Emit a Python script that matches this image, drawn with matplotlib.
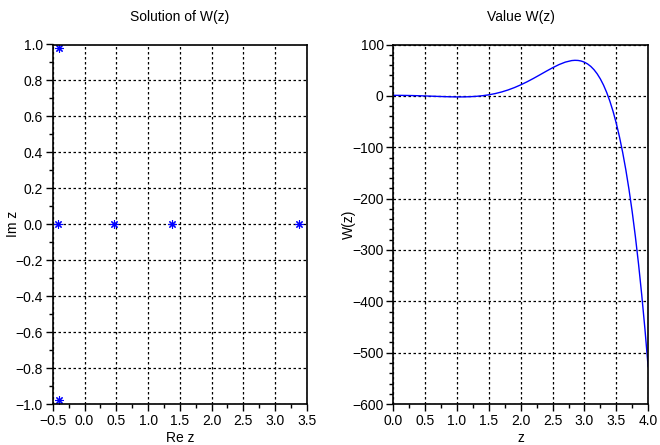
import numpy as np
import matplotlib
matplotlib.use('Agg')
import matplotlib.pyplot as plt
from matplotlib.ticker import MultipleLocator

plt.rcParams['font.family'] = ['Liberation Sans', 'DejaVu Sans']
plt.rcParams['font.size'] = 10

# roots of W(z)
root_re = [-0.42, -0.41, -0.41, 0.46, 1.38, 3.37]
root_im = [0.0, 0.98, -0.98, 0.0, 0.0, 0.0]

# W(z)
z_vals = [0.0, 0.1, 0.2, 0.3, 0.4, 0.5, 0.6, 0.7, 0.8, 0.9, 1.0,
          1.1, 1.2, 1.3, 1.4, 1.5, 1.6, 1.7, 1.8, 1.9, 2.0,
          2.1, 2.2, 2.3, 2.4, 2.5, 2.6, 2.7, 2.8, 2.85, 2.9, 2.95, 3.0,
          3.05, 3.1, 3.15, 3.2, 3.25, 3.3, 3.35, 3.4, 3.45, 3.5,
          3.55, 3.6, 3.65, 3.7, 3.75, 3.8, 3.85, 3.9, 3.95, 4.0]
w_vals = [1.01, 0.96, 0.80, 0.56, 0.23, -0.17, -0.61, -1.07, -1.50, -1.84, -2.04,
          -2.00, -1.66, -0.93, 0.29, 2.06, 4.48, 7.60, 11.46, 16.08, 21.43,
          27.44, 33.99, 40.91, 47.94, 54.72, 60.83, 65.72, 68.70, 69.2, 68.96, 67.78, 65.55,
          62.11, 57.31, 50.98, 42.94, 32.99, 20.91, 6.48, -10.53, -30.39, -53.36,
          -79.74, -109.83, -143.95, -182.45, -225.69, -274.04, -327.92, -387.75, -453.99, -527.06]


def style_axes(ax):
    ax.grid(True, which='major', color='black', linestyle=(0, (2, 2)), linewidth=0.9)
    ax.tick_params(which='major', direction='out', length=5, width=1, colors='black', pad=2)
    ax.tick_params(which='minor', direction='out', length=3, width=1)
    for s in ax.spines.values():
        s.set_linewidth(1.2)
        s.set_color('black')
    ax.set_axisbelow(True)


fig = plt.figure(figsize=(6.6, 4.45), dpi=100)

ax1 = fig.add_axes([0.080, 0.092, 0.385, 0.808])
ax1.plot(root_re, root_im, linestyle='none', marker=(8, 2, 0), markersize=6,
         color='blue', markeredgewidth=0.8)
ax1.set_xlim(-0.5, 3.5)
ax1.set_ylim(-1.0, 1.0)
ax1.xaxis.set_major_locator(MultipleLocator(0.5))
ax1.xaxis.set_minor_locator(MultipleLocator(0.25))
ax1.yaxis.set_major_locator(MultipleLocator(0.2))
ax1.yaxis.set_minor_locator(MultipleLocator(0.1))
ax1.xaxis.set_major_formatter(plt.FuncFormatter(lambda v, p: ('%.1f' % v).replace('-', '\u2212')))
ax1.yaxis.set_major_formatter(plt.FuncFormatter(lambda v, p: ('%.1f' % (v + 0.0)).replace('-', '\u2212')))
style_axes(ax1)
ax1.set_title('Solution of W(z)', pad=17, fontsize=10)
ax1.set_xlabel('Re z', labelpad=2)
ax1.set_ylabel('Im z', labelpad=-3)

ax2 = fig.add_axes([0.596, 0.092, 0.386, 0.808])
ax2.plot(z_vals, w_vals, color='blue', linewidth=1)
ax2.set_xlim(0.0, 4.0)
ax2.set_ylim(-600, 100)
ax2.xaxis.set_major_locator(MultipleLocator(0.5))
ax2.xaxis.set_minor_locator(MultipleLocator(0.25))
ax2.yaxis.set_major_locator(MultipleLocator(100))
ax2.yaxis.set_minor_locator(MultipleLocator(20))
ax2.xaxis.set_major_formatter(plt.FuncFormatter(lambda v, p: '%.1f' % v))
ax2.yaxis.set_major_formatter(plt.FuncFormatter(lambda v, p: ('%d' % v).replace('-', '\u2212')))
style_axes(ax2)
ax2.set_title('Value W(z)', pad=17, fontsize=10)
ax2.set_xlabel('z', labelpad=2)
ax2.set_ylabel('W(z)', labelpad=-3)

fig.savefig('out.png', dpi=100)
